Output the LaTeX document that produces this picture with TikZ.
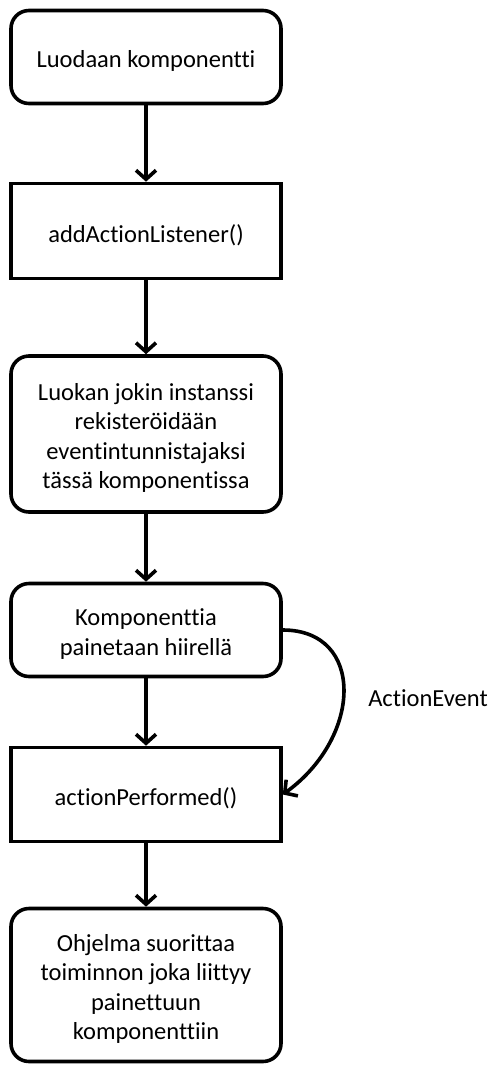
\documentclass[tikz,border=0pt]{standalone}
\usepackage{fontspec}
\setmainfont[Ligatures=CommonOff]{Carlito}
\usetikzlibrary{arrows.meta}
\begin{document}
\begin{tikzpicture}[x=1pt,y=-1pt,
  box/.style={draw=black,line width=3.6pt,fill=white,minimum width=270pt,inner sep=0pt},
  rbox/.style={box,rounded corners=18pt},
  txt/.style={align=center,font=\fontsize{24.5}{29.5}\selectfont,inner sep=0pt,yshift=-4pt},
  arr/.style={line width=3.6pt,-{Straight Barb[length=9pt,width=20pt,line width=3.6pt]}},
  lbl/.style={font=\fontsize{24.5}{29.5}\selectfont}]
\useasboundingbox (0,0) rectangle (489,1066);
\node[rbox,minimum height=93pt] (b1) at (146,57) {};
\node[box,minimum height=95pt] (b2) at (146,231) {};
\node[rbox,minimum height=156pt] (b3) at (146,434) {};
\node[rbox,minimum height=93pt] (b4) at (146,630) {};
\node[box,minimum height=94pt] (b5) at (146,794.5) {};
\node[rbox,minimum height=153pt] (b6) at (146,985) {};
\node[txt] (t1) at (b1) {Luodaan komponentti};
\node[txt] (t2) at (b2) {addActionListener()};
\node[txt] (t3) at (b3) {Luokan jokin instanssi\\rekisteröidään\\eventintunnistajaksi\\tässä komponentissa};
\node[txt] (t4) at (b4) {Komponenttia\\painetaan hiirellä};
\node[txt] (t5) at (b5) {actionPerformed()};
\node[txt] (t6) at (b6) {Ohjelma suorittaa\\toiminnon joka liittyy\\painettuun\\komponenttiin};
\node[lbl] (ae) at (428,698) {ActionEvent};
\draw[arr] (b1) -- (b2);
\draw[arr] (b2) -- (b3);
\draw[arr] (b3) -- (b4);
\draw[arr] (b4) -- (b5);
\draw[arr] (b5) -- (b6);
\draw[arr] (b4.east) .. controls +(82,0) and +(80,-58) .. (b5.east);
\end{tikzpicture}
\end{document}
